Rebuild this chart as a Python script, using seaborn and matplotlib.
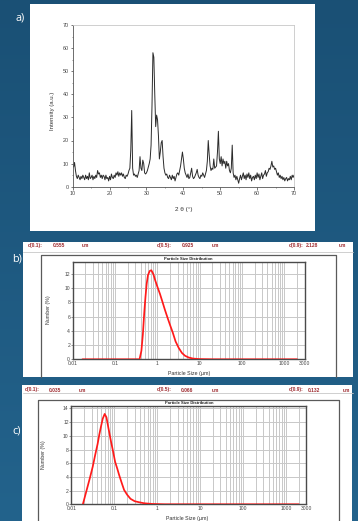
import numpy as np
import pandas as pd
import matplotlib
matplotlib.use("Agg")
import matplotlib.pyplot as plt
from matplotlib.patches import Rectangle
from matplotlib.lines import Line2D
from matplotlib.ticker import MultipleLocator, FixedLocator, NullFormatter, LogLocator
import seaborn as sns

# ---------------- data ----------------
# (a) XRD pattern, 2-theta from 10 to 70 deg in 0.25 deg steps
xrd_start, xrd_step = 10.0, 0.25
xrd_intensity = [
    9, 8.5, 10.5, 7,      4.5, 3.5, 5, 4,       3, 4.5, 3.5, 5,       4, 3, 5, 3.5,
    4.5, 3, 6, 3.5,       4, 5, 3, 4.5,         3.5, 5, 4, 7,         5.5, 6, 4, 5,
    3.5, 5, 4.5, 3,       5, 3.5, 4, 2.5,       4.5, 3, 5.5, 4,       3.5, 5, 4, 6,
    5, 6.5, 4.5, 6,       5, 6, 4.5, 5.5,       4, 3.5, 5, 4.5,       5.5, 7, 8, 16,
    33, 8, 5, 5.5,        4.5, 5, 4, 5.5,       7, 13, 8, 7,          11.5, 10, 6, 5.5,
    6, 7, 8.5, 10,        12, 18, 35, 58,       56, 40, 26, 31,       29, 22, 12, 15,
    19, 20, 13, 8,        6, 5, 5.5, 4,         3.5, 5, 4, 3,         5, 3.5, 4.5, 2.5,
    4, 5.5, 6, 5,         7, 9, 12, 15,         12, 8, 6, 5,          4, 5.5, 3.5, 4,
    6, 8, 4.5, 3.5,       4, 5, 6, 7.5,         5, 4, 3.5, 5,         4.5, 6, 5, 4,
    5.5, 7, 11, 20,       14, 9, 7, 8,          7.5, 12, 8, 8.5,      9, 15, 24, 12,
    10, 13, 9, 12,        10, 11, 8, 11,        9, 10, 7, 6,          8, 18, 6, 4,
    5, 3, 4.5, 3,         1.5, 3.5, 5, 3,       4.5, 6, 3.5, 5,       3, 5.5, 4, 6,
    3.5, 5, 2.5, 4,       4.5, 3, 5, 3.5,       6, 4, 5.5, 3,         4.5, 6, 3.5, 5,
    5.5, 7, 4.5, 6,       6.5, 8, 7.5, 9,       11, 8.5, 9, 7.5,      8, 6.5, 5, 6,
    4, 5, 3.5, 4.5,       3, 4, 2.5, 3.5,       4, 2.5, 3.5, 3,       4.5, 3, 5, 4,
    5,
]
xrd_two_theta = xrd_start + xrd_step * np.arange(len(xrd_intensity))

# (b) particle size distribution
b_size = [0.017, 0.1, 0.38, 0.42, 0.455, 0.49, 0.525, 0.56, 0.6, 0.66, 0.72, 0.8,
          0.9, 1.0, 1.15, 1.3, 1.5, 1.75, 2.0, 2.3, 2.7, 3.2, 3.8, 4.5, 5.5, 7, 10, 20, 2000]
b_number = [0, 0, 0, 1.2, 3.5, 6.5, 8.8, 10.6, 11.8, 12.4, 12.5, 12.0,
            11.0, 10.2, 9.2, 8.2, 7.0, 5.8, 4.8, 3.8, 2.5, 1.6, 0.9, 0.5, 0.25, 0.1, 0.03, 0, 0]
b_d = ["0.555", "0.925", "2.128"]

# (c) particle size distribution
c_size = [0.0186, 0.0222, 0.027, 0.0316, 0.036, 0.041, 0.045, 0.049, 0.054, 0.06, 0.066,
          0.073, 0.084, 0.095, 0.105, 0.118, 0.13, 0.15, 0.17, 0.2, 0.24, 0.3, 0.38, 0.5,
          0.77, 1.5, 2000]
c_number = [0, 1.8, 3.8, 5.5, 7.2, 8.8, 10.2, 11.3, 12.5, 13.2, 12.7,
            11.2, 9.2, 7.6, 6.2, 5.2, 4.3, 3.1, 2.1, 1.4, 0.8, 0.45, 0.3, 0.15,
            0.05, 0, 0]
c_d = ["0.035", "0.066", "0.132"]

psd_ticks = [0.01, 0.1, 1, 10, 100, 1000, 3000]
psd_ticklabels = ["0.01", "0.1", "1", "10", "100", "1000", "3000"]

# ---------------- layout helpers ----------------
W, H = 358, 521
sns.set_style("white")
plt.rcParams["font.family"] = ["Liberation Sans", "DejaVu Sans"]

fig = plt.figure(figsize=(W / 100, H / 100), dpi=100)


def rect(x0, y0, x1, y1):
    return [x0 / W, 1 - y1 / H, (x1 - x0) / W, (y1 - y0) / H]


def ftext(x, y, s, **kw):
    fig.text(x / W, 1 - y / H, s, **kw)


def fline(xs, ys, **kw):
    fig.add_artist(Line2D([x / W for x in xs], [1 - y / H for y in ys],
                          transform=fig.transFigure, **kw))


def frect(x0, y0, x1, y1, **kw):
    fig.add_artist(Rectangle((x0 / W, 1 - y1 / H), (x1 - x0) / W, (y1 - y0) / H,
                             transform=fig.transFigure, **kw))


# background gradient
bg = fig.add_axes([0, 0, 1, 1], zorder=-10)
top = np.array([26, 80, 117]) / 255
bot = np.array([35, 99, 140]) / 255
t = np.linspace(0, 1, 256)[:, None]
grad = top[None, :] * (1 - t) + bot[None, :] * t
bg.imshow(grad[:, None, :].repeat(2, axis=1), aspect="auto", extent=[0, 1, 0, 1])
bg.axis("off")

# white panels
frect(30, 4, 315, 231, facecolor="white", edgecolor="none", zorder=-5)
frect(22.7, 242, 352.7, 377, facecolor="white", edgecolor="none", zorder=-5)
frect(22, 385, 352, 521, facecolor="white", edgecolor="none", zorder=-5)

# panel letters
for s, x, y in [("a)", 20, 18), ("b)", 17, 259), ("c)", 17, 431)]:
    ftext(x, y, s, color="white", fontsize=7.8, ha="center", va="center",
          family=["Open Sans", "DejaVu Sans"])

# ---------------- (a) XRD ----------------
axa = fig.add_axes(rect(72.7, 25, 294, 186.7))
dfa = pd.DataFrame({"two_theta": xrd_two_theta, "intensity": xrd_intensity})
sns.lineplot(data=dfa, x="two_theta", y="intensity", ax=axa, color="#2b2b2b",
             linewidth=0.7, sort=False)
axa.set_xlim(10, 70)
axa.set_ylim(0, 70)
axa.xaxis.set_major_locator(MultipleLocator(10))
axa.xaxis.set_minor_locator(MultipleLocator(5))
axa.yaxis.set_major_locator(MultipleLocator(10))
axa.yaxis.set_minor_locator(MultipleLocator(5))
axa.tick_params(which="major", direction="out", length=1.8, width=0.5, pad=1.2,
                labelsize=3.9, colors="#444", bottom=True, left=True)
axa.tick_params(which="minor", direction="out", length=1.0, width=0.4,
                colors="#444", bottom=True, left=True)
axa.set_xlabel("")
axa.set_ylabel("")
for side in ["left", "bottom"]:
    axa.spines[side].set_color("#555")
    axa.spines[side].set_linewidth(0.6)
for side in ["top", "right"]:
    axa.spines[side].set_color("#c8c8c8")
    axa.spines[side].set_linewidth(0.6)
ftext(52.5, 111, "Intensity (a.u.)", rotation=90, fontsize=4.3, ha="center",
      va="center", color="#333")
ftext(184, 210, "2 θ (°)", fontsize=4.6, ha="center", va="center", color="#333")


# ---------------- (b), (c) PSD ----------------
def psd_panel(box, sizes, numbers, ymax, yticks, frame, sep_y, header_y, dvals,
              header_x, ylab_xy, xlab_xy):
    x0, y0, x1, y1 = box
    ax = fig.add_axes(rect(x0, y0, x1, y1))
    ax.set_facecolor("white")
    ax.set_xscale("log")
    df = pd.DataFrame({"size": sizes, "number": numbers})
    sns.lineplot(data=df, x="size", y="number", ax=ax, color="#ff1a1a",
                 linewidth=1.25, zorder=5)
    ax.set_xlim(0.01, 3000)
    ax.set_ylim(0, ymax)
    ax.xaxis.set_major_locator(FixedLocator(psd_ticks))
    ax.set_xticklabels(psd_ticklabels)
    ax.xaxis.set_minor_locator(LogLocator(base=10, subs=np.arange(2, 10), numticks=20))
    ax.xaxis.set_minor_formatter(NullFormatter())
    ax.set_yticks(yticks)
    ax.grid(True, which="both", axis="x", color="#c8c8c8", linewidth=0.7)
    ax.grid(True, which="major", axis="y", color="#c8c8c8", linewidth=0.7)
    ax.tick_params(axis="y", which="major", direction="out", length=1.3, width=0.4,
                   pad=0.6, labelsize=3.6, colors="#444", left=True)
    ax.tick_params(axis="x", which="major", length=0, pad=1.2, labelsize=3.6,
                   colors="#444")
    ax.tick_params(axis="x", which="minor", length=0)
    ax.set_xlabel("")
    ax.set_ylabel("")
    for sp in ax.spines.values():
        sp.set_color("#4a4a4a")
        sp.set_linewidth(1.0)
    ax.text(0.5, 1.025, "Particle Size Distribution", transform=ax.transAxes,
            ha="center", va="center", fontsize=3.0, fontweight="bold", color="#222")
    # outer chart frame and header separator
    fx0, fy0, fx1, fy1 = frame
    fline([fx0, fx0, fx1, fx1], [fy1, fy0, fy0, fy1], color="#5a5a5a", linewidth=0.9)
    fline([22.7, 352.7], [sep_y, sep_y], color="#c8c8c8", linewidth=0.6)
    # header with d-values
    labels = ["d(0.1):", dvals[0], "um", "d(0.5):", dvals[1], "um", "d(0.9):", dvals[2], "um"]
    for lab, hx in zip(labels, header_x):
        ftext(hx, header_y, lab, fontsize=3.5, ha="left", va="center",
              color="#9e2a2f", fontweight="bold")
    ftext(ylab_xy[0], ylab_xy[1], "Number (%)", rotation=90, fontsize=3.8,
          ha="center", va="center", color="#333")
    ftext(xlab_xy[0], xlab_xy[1], "Particle Size (µm)", fontsize=3.8,
          ha="center", va="center", color="#333")
    return ax


psd_panel((72.7, 261.7, 304.5, 359.3), b_size, b_number, 13.7, range(0, 13, 2),
          (41, 255, 336, 377), 252, 245.7, b_d,
          [28, 53, 82, 157, 182, 212, 289, 306, 339], (48.3, 310), (189, 373.5))
psd_panel((71.3, 405.7, 306.3, 504.3), c_size, c_number, 14.4, range(0, 15, 2),
          (37.7, 400, 339, 521), 393, 390, c_d,
          [25, 49, 79, 157, 181, 212, 289, 308, 343], (44, 455), (186.7, 518.3))

fig.savefig("out.png", dpi=100)
